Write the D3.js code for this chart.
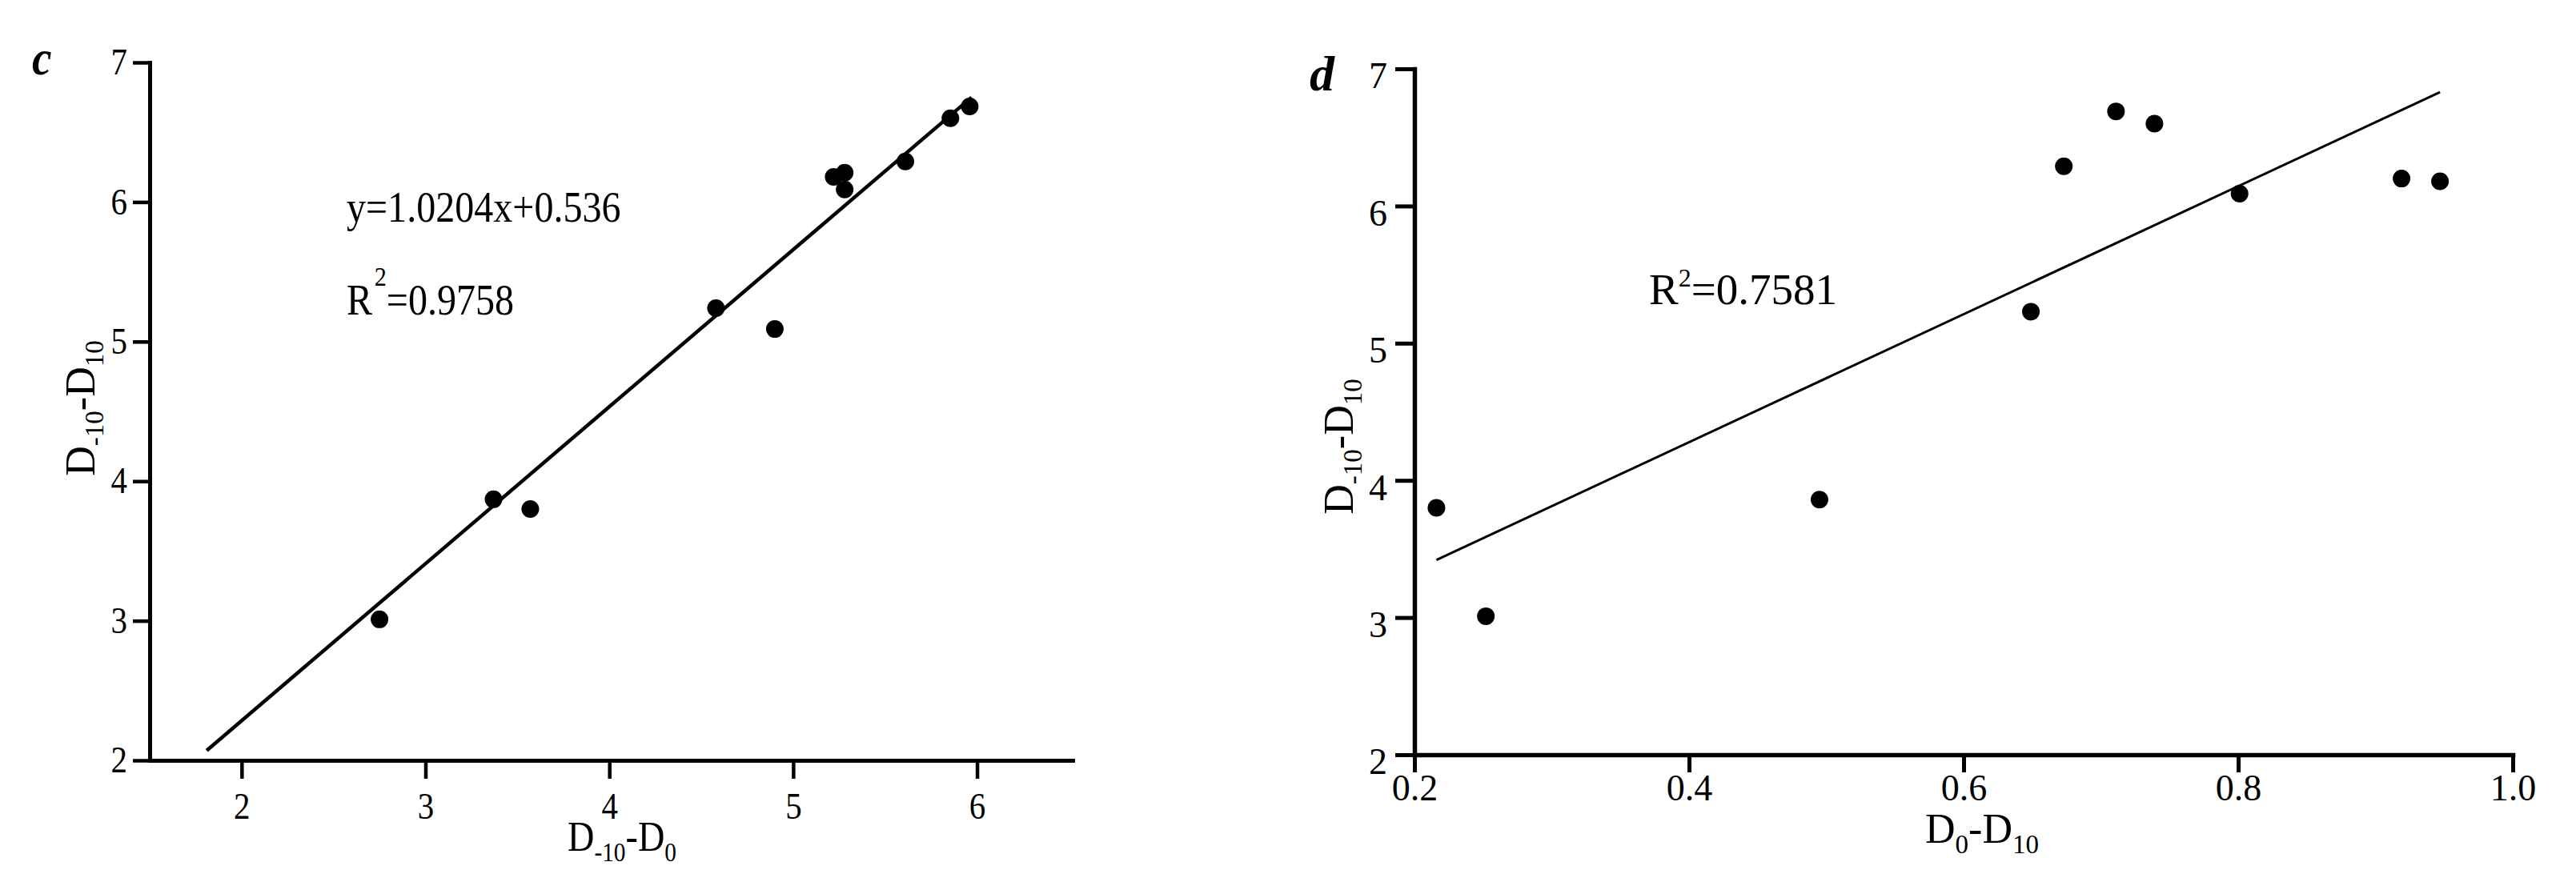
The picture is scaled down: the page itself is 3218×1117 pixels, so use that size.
<!DOCTYPE html>
<html lang="en">
<head>
<meta charset="UTF-8">
<title>D-10-D10 regressions</title>
<script src="https://d3js.org/d3.v7.min.js"></script>
<style>
  body { margin: 0; background: #fff; }
  svg { display: block; font-family: "Liberation Serif", "Times New Roman", serif; }
  .axis path, .axis line { stroke: #000; }
  .axis text { font-size: 46px; fill: #000; font-family: "Liberation Serif", serif; }
</style>
</head>
<body>
<svg id="chart" width="3218" height="1117"></svg>
<script>
// panel c: D-10-D0 (x) vs D-10-D10 (y)
const cX = [2.75, 3.37, 3.57, 4.58, 4.90, 5.22, 5.28, 5.28, 5.61, 5.855, 5.96];
const cY = [3.01, 3.87, 3.80, 5.24, 5.09, 6.18, 6.21, 6.09, 6.29, 6.60, 6.685];
const cFit = [[1.81, 2.07], [5.97, 6.75]];
const cXTicks = [2, 3, 4, 5, 6];

// panel d: D0-D10 (x) vs D-10-D10 (y)
const dX = [0.216, 0.252, 0.495, 0.649, 0.673, 0.711, 0.739, 0.801, 0.919, 0.947];
const dY = [3.80, 3.01, 3.86, 5.23, 6.29, 6.69, 6.60, 6.09, 6.20, 6.18];
const dFit = [[0.216, 3.42], [0.947, 6.83]];
const dXTicks = [0.2, 0.4, 0.6, 0.8, 1.0];

const yTicks = [2, 3, 4, 5, 6, 7];

const svg = d3.select("#chart");

// squeeze text horizontally about its own x (panel c looks narrower)
function squeeze(sel, k) {
  sel.each(function() {
    const x = +this.getAttribute("x") || 0;
    this.setAttribute("transform", `translate(${x},0) scale(${k},1) translate(${-x},0)`);
  });
}

// text with subscripts, parts = [[text, isSub], ...]
function addParts(text, parts, size, subSize, shift) {
  let down = false;
  parts.forEach(([t, sub]) => {
    const ts = text.append("tspan").text(t).attr("font-size", sub ? subSize : size);
    if (sub && !down) { ts.attr("dy", shift); down = true; }
    else if (!sub && down) { ts.attr("dy", -shift); down = false; }
  });
}

function drawPanel(p) {
  const g = svg.append("g");
  const x = d3.scaleLinear().domain(p.xDomain).range(p.xRange);
  const y = d3.scaleLinear().domain([2, 7]).range(p.yRange);

  // y axis
  const ya = g.append("g").attr("class", "axis")
    .attr("transform", `translate(${p.xRange[0]},0)`)
    .call(d3.axisLeft(y).tickValues(yTicks).tickSize(p.yTick).tickSizeOuter(0)
      .tickPadding(p.yPad).tickFormat(d3.format("d")));
  ya.select(".domain").attr("stroke-width", p.axisW).attr("stroke-linecap", "square");
  ya.selectAll(".tick line").attr("stroke-width", p.tickW);
  ya.selectAll(".tick text").attr("dy", p.yDy);

  // x axis
  const xa = g.append("g").attr("class", "axis")
    .attr("transform", `translate(0,${p.yRange[0]})`)
    .call(d3.axisBottom(x).tickValues(p.xTicks).tickSize(p.xTick).tickSizeOuter(0)
      .tickPadding(p.xPad).tickFormat(p.fmt));
  xa.select(".domain").attr("stroke-width", p.axisW).attr("stroke-linecap", "square");
  xa.selectAll(".tick line").attr("stroke-width", p.tickW);
  xa.selectAll("text").attr("font-size", 46);
  ya.selectAll("text").attr("font-size", 46);

  if (p.squeeze) {
    squeeze(ya.selectAll(".tick text"), p.squeeze);
    squeeze(xa.selectAll(".tick text"), p.squeeze);
  }

  // fitted line
  g.append("path")
    .datum(p.fit)
    .attr("fill", "none").attr("stroke", "#000").attr("stroke-width", p.lineW)
    .attr("d", d3.line().x(d => x(d[0])).y(d => y(d[1])));

  // points
  g.selectAll("circle.pt")
    .data(p.xs.map((v, i) => [v, p.ys[i]]))
    .join("circle")
    .attr("class", "pt")
    .attr("cx", d => x(d[0])).attr("cy", d => y(d[1]))
    .attr("r", 11).attr("fill", "#000");

  // axis titles
  const xt = g.append("text").attr("x", p.xTitle[0]).attr("y", p.xTitle[1])
    .attr("text-anchor", "middle");
  addParts(xt, p.xTitleParts, 52, 33, 13);
  if (p.squeeze) squeeze(xt, p.squeeze);

  const yt = g.append("text")
    .attr("transform", `translate(${p.yTitle[0]},${p.yTitle[1]}) rotate(-90)`)
    .attr("text-anchor", "middle");
  addParts(yt, [["D", false], ["-10", true], ["-D", false], ["10", true]], 52, 33, 11);

  // panel letter
  const lt = g.append("text").attr("x", p.letter[0]).attr("y", p.letter[1])
    .attr("font-size", 62).attr("font-weight", "bold").attr("font-style", "italic")
    .text(p.letterText);
  if (p.squeeze) squeeze(lt, p.squeeze);

  return g;
}

const gc = drawPanel({
  xDomain: [1.5, 6.52], xRange: [187, 1340], yRange: [950, 78],
  xs: cX, ys: cY, fit: cFit, xTicks: cXTicks, fmt: d3.format("d"),
  yTick: 21, yPad: 7, yDy: "0.32em", xTick: 23, xPad: 17,
  axisW: 5, tickW: 4.5, lineW: 4.5, squeeze: 0.89,
  xTitle: [777, 1063], xTitleParts: [["D", false], ["-10", true], ["-D", false], ["0", true]],
  yTitle: [118, 510], letter: [40, 93], letterText: "c"
});

const gd = drawPanel({
  xDomain: [0.2, 1.0], xRange: [1767, 3139], yRange: [943, 86],
  xs: dX, ys: dY, fit: dFit, xTicks: dXTicks, fmt: d3.format(".1f"),
  yTick: 24, yPad: 10, yDy: "0.52em", xTick: 22, xPad: 2,
  axisW: 5.5, tickW: 5, lineW: 3, squeeze: null,
  xTitle: [2476, 1053], xTitleParts: [["D", false], ["0", true], ["-D", false], ["10", true]],
  yTitle: [1690, 558], letter: [1636, 113], letterText: "d"
});

// equations
const eq = gc.append("text").attr("x", 433).attr("y", 277).attr("font-size", 54)
  .text("y=1.0204x+0.536");
squeeze(eq, 0.89);

const r2c = gc.append("text").attr("x", 433).attr("y", 393).attr("font-size", 54);
r2c.append("tspan").text("R");
r2c.append("tspan").text("2").attr("font-size", 34).attr("dx", 3).attr("dy", -36);
r2c.append("tspan").text("=0.9758").attr("dy", 36);
squeeze(r2c, 0.89);

const r2d = gd.append("text").attr("x", 2060).attr("y", 380).attr("font-size", 55);
r2d.append("tspan").text("R");
r2d.append("tspan").text("2").attr("font-size", 32).attr("dy", -22);
r2d.append("tspan").text("=0.7581").attr("dy", 22);
</script>
</body>
</html>
